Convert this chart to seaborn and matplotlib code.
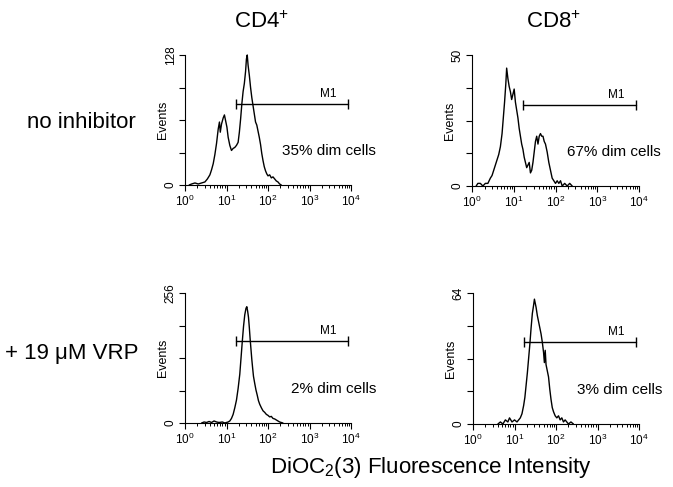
import matplotlib
matplotlib.use("Agg")
import matplotlib.pyplot as plt
import numpy as np
import pandas as pd
import seaborn as sns

# DiOC2(3) histograms, x in log10 fluorescence, y in events ---------------------------------

cd4_ctrl_log = [0.10, 0.16, 0.24, 0.32, 0.40, 0.48, 0.54, 0.60, 0.64, 0.68, 0.72, 0.76, 0.80, 0.83, 0.85,
                0.88, 0.92, 0.95, 0.98, 1.01, 1.04, 1.08, 1.12, 1.16, 1.20, 1.24, 1.28, 1.31, 1.34, 1.37,
                1.40, 1.43, 1.46, 1.48, 1.50, 1.52, 1.55, 1.58, 1.61, 1.64, 1.67, 1.70, 1.73, 1.76, 1.79,
                1.82, 1.85, 1.88, 1.91, 1.94, 1.97, 2.00, 2.04, 2.08, 2.12, 2.16, 2.20, 2.24, 2.28, 2.32]
cd4_ctrl_cnt = [0, 1, 2, 1, 2, 3, 6, 10, 15, 21, 30, 41, 55, 62, 52,
                60, 66, 69, 63, 57, 47, 39, 34, 36, 37, 39, 42, 52, 65, 80,
                92, 100, 112, 124, 128, 118, 108, 96, 86, 78, 70, 62, 59, 53, 47,
                40, 31, 24, 18, 14, 11, 9, 10, 7, 8, 6, 4, 3, 1, 0]

cd8_ctrl_log = [0.10, 0.14, 0.20, 0.26, 0.32, 0.38, 0.44, 0.48, 0.52, 0.56, 0.60, 0.64, 0.68, 0.72, 0.75,
                0.78, 0.81, 0.83, 0.86, 0.89, 0.92, 0.95, 0.98, 1.01, 1.04, 1.07, 1.10, 1.13, 1.16, 1.19,
                1.22, 1.25, 1.28, 1.31, 1.34, 1.37, 1.40, 1.43, 1.46, 1.49, 1.52, 1.55, 1.58, 1.61, 1.64,
                1.67, 1.70, 1.73, 1.76, 1.80, 1.84, 1.88, 1.92, 1.96, 2.00, 2.04, 2.08, 2.12, 2.16, 2.22,
                2.28, 2.34, 2.40]
cd8_ctrl_cnt = [0, 1, 1, 0, 1, 1, 3, 4, 6, 8, 10, 12, 15, 20, 26,
                32, 39, 45, 41, 38, 36, 33, 35, 37, 32, 29, 26, 22, 19, 16,
                14, 11, 9, 7, 8, 9, 5, 6, 9, 13, 17, 19, 16, 19, 20,
                19, 19, 17, 16, 13, 9, 6, 3, 2, 1, 2, 1, 2, 0, 1,
                0, 1, 0]

cd4_vrp_log = [0.40, 0.46, 0.52, 0.58, 0.64, 0.70, 0.76, 0.82, 0.90, 0.96, 1.04, 1.08, 1.12, 1.16, 1.20,
               1.24, 1.28, 1.32, 1.35, 1.38, 1.41, 1.44, 1.47, 1.49, 1.51, 1.53, 1.55, 1.57, 1.59, 1.61,
               1.63, 1.65, 1.68, 1.71, 1.74, 1.77, 1.80, 1.84, 1.88, 1.92, 1.96, 2.00, 2.04, 2.08, 2.12,
               2.16, 2.20, 2.24, 2.28, 2.32, 2.36]
cd4_vrp_cnt = [0, 2, 1, 3, 1, 4, 2, 1, 2, 0, 2, 4, 9, 17, 30,
               45, 68, 96, 128, 160, 190, 213, 226, 229, 220, 208, 188, 165, 145, 125,
               108, 92, 78, 65, 55, 44, 37, 30, 24, 21, 17, 15, 12, 13, 9,
               8, 6, 4, 2, 1, 0]

cd8_vrp_log = [0.60, 0.66, 0.72, 0.78, 0.84, 0.88, 0.94, 1.00, 1.06, 1.10, 1.14, 1.18, 1.22, 1.25, 1.28,
               1.31, 1.34, 1.37, 1.40, 1.43, 1.46, 1.48, 1.50, 1.52, 1.55, 1.58, 1.61, 1.64, 1.67, 1.70,
               1.72, 1.74, 1.76, 1.79, 1.82, 1.85, 1.88, 1.91, 1.94, 1.98, 2.02, 2.06, 2.10, 2.14, 2.18,
               2.22, 2.26, 2.30, 2.36, 2.42]
cd8_vrp_cnt = [0, 1, 0, 2, 1, 3, 1, 2, 1, 2, 3, 5, 9, 13, 19,
               25, 32, 39, 47, 54, 58, 61, 59, 57, 53, 50, 47, 44, 40, 35,
               30, 36, 29, 26, 23, 17, 12, 8, 6, 4, 3, 4, 2, 3, 1,
               2, 1, 0, 1, 0]

y_max = [128, 50, 256, 64]
dim_text = ["35% dim cells", "67% dim cells", "2% dim cells", "3% dim cells"]
dim_pos_log = [2.33, 2.27, 2.55, 2.50]
m1_range = [16.6, 8500]
m1_height = [80, 31, 161, 40]
col_titles = ["CD4$^{+}$", "CD8$^{+}$"]
row_titles = ["no inhibitor", "+ 19 \u03bcM VRP"]

sns.set_style("ticks")
plt.rcParams['font.family'] = ['Liberation Sans', 'DejaVu Sans']
plt.rcParams['mathtext.fontset'] = 'custom'
plt.rcParams['mathtext.rm'] = 'Liberation Sans'
plt.rcParams['mathtext.it'] = 'Liberation Sans:italic'
plt.rcParams['mathtext.bf'] = 'Liberation Sans:bold'
for key in ['text.color', 'axes.labelcolor', 'xtick.color', 'ytick.color', 'axes.edgecolor']:
    plt.rcParams[key] = 'black'

fig = plt.figure(figsize=(6.73, 4.87), dpi=100)

boxes = [
    [185/673, 1 - 185/487, 166/673, 130/487],
    [472/673, 1 - 186/487, 167/673, 131/487],
    [185/673, 1 - 423/487, 166/673, 130/487],
    [473/673, 1 - 424/487, 166/673, 131/487],
]
series = [(cd4_ctrl_log, cd4_ctrl_cnt), (cd8_ctrl_log, cd8_ctrl_cnt),
          (cd4_vrp_log, cd4_vrp_cnt), (cd8_vrp_log, cd8_vrp_cnt)]

for i, (box, (lg, cnt)) in enumerate(zip(boxes, series)):
    ax = fig.add_axes(box)
    ax.set_facecolor('white')
    df = pd.DataFrame({'fl': 10 ** np.array(lg), 'events': cnt})
    sns.lineplot(data=df, x='fl', y='events', ax=ax, estimator=None, sort=False,
                 color='black', linewidth=1.0, clip_on=False)
    ax.set_xscale('log')
    ax.set_xlim(1, 1e4)
    ax.set_ylim(0, y_max[i])

    # M1 marker bar
    ax.plot(m1_range, [m1_height[i]] * 2, color='black', linewidth=1.0)
    ax.plot(m1_range, [m1_height[i]] * 2, linestyle='none', marker='|', markersize=7,
            markeredgewidth=1.0, color='black')
    ax.text(10 ** 3.45, m1_height[i] + y_max[i] * 0.03, "M1", ha='center', va='bottom', fontsize=8.5)
    ax.text(10 ** dim_pos_log[i], y_max[i] * 0.26, dim_text[i], ha='left', va='center', fontsize=11)

    yt = [0, y_max[i] / 4, y_max[i] / 2, 3 * y_max[i] / 4, y_max[i]]
    ax.set_yticks(yt)
    ax.set_yticklabels(['0', '', '', '', str(y_max[i])])
    ax.set_xticks([1, 10, 100, 1000, 10000])
    ax.xaxis.set_minor_locator(matplotlib.ticker.LogLocator(base=10, subs=np.arange(2, 10), numticks=50))
    ax.xaxis.set_minor_formatter(matplotlib.ticker.NullFormatter())
    ax.tick_params(axis='both', which='major', length=4, width=0.8, labelsize=8.5, pad=2, direction='out')
    ax.tick_params(axis='x', which='minor', length=2.5, width=0.7, bottom=True)
    for lab in ax.get_yticklabels():
        lab.set_rotation(90)
        lab.set_va('center')
    ax.set_xlabel('')
    ax.set_ylabel('Events', fontsize=9, va='center')
    ax.yaxis.set_label_coords(-22 / 166, 0.5)
    sns.despine(ax=ax)
    for sp in ['left', 'bottom']:
        ax.spines[sp].set_linewidth(0.8)

fig.text(261/673, 1 - 22/487, col_titles[0], ha='center', va='center', fontsize=16)
fig.text(553/673, 1 - 22/487, col_titles[1], ha='center', va='center', fontsize=16)
fig.text(81/673, 1 - 122/487, row_titles[0], ha='center', va='center', fontsize=16)
fig.text(72/673, 1 - 354/487, row_titles[1], ha='center', va='center', fontsize=16)
fig.text(431/673, 1 - 468/487, "DiOC$_{2}$(3) Fluorescence Intensity", ha='center', va='center', fontsize=16)

fig.savefig("out.png", dpi=100, facecolor='white')
